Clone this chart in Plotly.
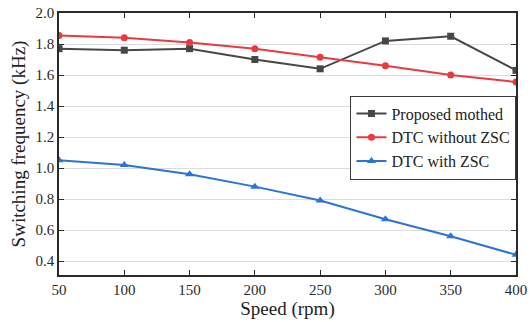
import plotly.graph_objects as go

speed = [50, 100, 150, 200, 250, 300, 350, 400]
proposed = [1.77, 1.76, 1.77, 1.70, 1.64, 1.82, 1.85, 1.63]
dtc_without = [1.855, 1.84, 1.81, 1.77, 1.715, 1.66, 1.60, 1.555]
dtc_with = [1.05, 1.02, 0.96, 0.88, 0.79, 0.67, 0.56, 0.44]
y_ticks = [0.4, 0.6, 0.8, 1.0, 1.2, 1.4, 1.6, 1.8, 2.0]
x_ticks = [50, 100, 150, 200, 250, 300, 350, 400]

FONT = "Liberation Serif, Times New Roman, serif"
fig = go.Figure()
fig.add_trace(go.Scatter(x=speed, y=proposed, name="Proposed mothed", mode="lines+markers",
                         line=dict(color="#474747", width=2),
                         marker=dict(symbol="square", size=7, color="#474747")))
fig.add_trace(go.Scatter(x=speed, y=dtc_without, name="DTC without ZSC", mode="lines+markers",
                         line=dict(color="#ea3a3f", width=2),
                         marker=dict(symbol="circle", size=7, color="#ea3a3f")))
fig.add_trace(go.Scatter(x=speed, y=dtc_with, name="DTC with ZSC", mode="lines+markers",
                         line=dict(color="#2b74d6", width=2),
                         marker=dict(symbol="triangle-up", size=8, color="#2b74d6")))

axis_common = dict(showline=True, linecolor="#2a2a2a", linewidth=1.6, mirror="ticks",
                   ticks="inside", ticklen=5, tickcolor="#2a2a2a", tickwidth=1.3,
                   tickfont=dict(family=FONT, size=15, color="#2a2a2a"), zeroline=False,
                   automargin=False)
fig.update_layout(
    width=532, height=322,
    margin=dict(l=59, r=16, t=13, b=47),
    paper_bgcolor="white", plot_bgcolor="white",
    font=dict(family=FONT, color="#222222"),
    xaxis=dict(range=[50, 400], tickvals=x_ticks, showgrid=False,
               title=dict(text="Speed (rpm)", font=dict(family=FONT, size=19), standoff=3),
               **axis_common),
    yaxis=dict(range=[0.31, 2.0], tickvals=y_ticks, tickformat=".1f",
               showgrid=True, gridcolor="#dcdcdc", gridwidth=1.2,
               title=dict(text="Switching frequency (kHz)", font=dict(family=FONT, size=19), standoff=5),
               **axis_common),
    legend=dict(x=1.001, y=0.685, xanchor="right", yanchor="top",
                bgcolor="white", bordercolor="#3a3a3a", borderwidth=1,
                font=dict(family=FONT, size=16, color="#222222"),
                tracegroupgap=0, itemwidth=30),
    showlegend=True,
)
fig.write_html("out.html")
